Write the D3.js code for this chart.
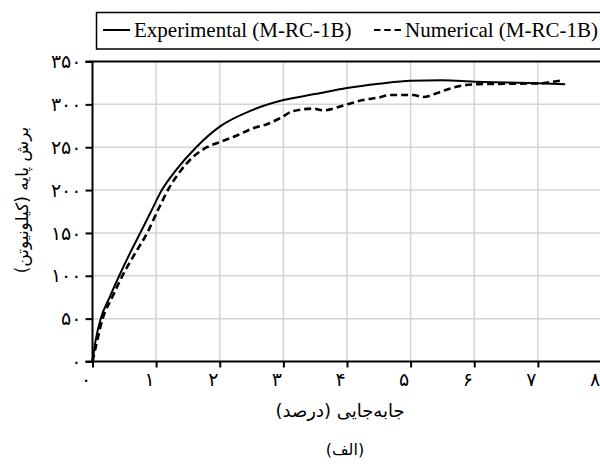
<!DOCTYPE html>
<html>
<head>
<meta charset="utf-8">
<title>M-RC-1B</title>
<style>
  body { margin: 0; background: #fff; }
  svg { display: block; }
  .latin { font-family: "Liberation Serif", "Times New Roman", "DejaVu Serif", serif; }
  .fa { font-family: "DejaVu Sans", sans-serif; }
</style>
</head>
<body>
<svg width="600" height="466"></svg>
<script src="https://d3js.org/d3.v7.min.js"></script>
<script>

// drift ratio (%) and base shear (kN)
var expDrift = [0, 0.05, 0.13, 0.27, 0.42, 0.58, 0.75, 0.92, 1.09, 1.3, 1.63, 2.0, 2.5, 3.0, 3.5, 4.0, 4.5, 5.0, 5.5, 6.0, 6.5, 7.0, 7.43];
var expShear = [0, 25, 50, 75, 100, 125, 150, 175, 200, 222, 250, 274, 293, 305, 312, 319, 324, 327.6, 328, 326.5, 325.5, 324.6, 323.5];

var numDrift = [0, 0.06, 0.16, 0.31, 0.47, 0.66, 0.86, 1.05, 1.2, 1.36, 1.6, 1.8, 2.0, 2.25, 2.52, 2.75, 2.95, 3.15, 3.47, 3.62, 4.0, 4.25, 4.5, 4.68, 5.04, 5.2, 5.41, 5.6, 5.78, 6.04, 6.5, 7.04, 7.2, 7.38];
var numShear = [0, 20, 50, 75, 100, 125, 150, 180, 202, 220, 240, 250, 256, 263, 272, 277, 284, 292, 295, 293, 300, 305, 308, 311, 311, 308.5, 313, 318, 321.5, 323.5, 324, 324.6, 326, 328];

var xTicks = [0, 1, 2, 3, 4, 5, 6, 7, 8];
var xTickLabels = ["۰", "۱", "۲", "۳", "۴", "۵", "۶", "۷", "۸"];
var yTicks = [0, 50, 100, 150, 200, 250, 300, 350];
var yTickLabels = ["۰", "۵۰", "۱۰۰", "۱۵۰", "۲۰۰", "۲۵۰", "۳۰۰", "۳۵۰"];

var seriesNames = ["Experimental (M-RC-1B)", "Numerical (M-RC-1B)"];

var svg = d3.select("svg");

var x = d3.scaleLinear().domain([0, 8]).range([92.5, 601.5]);
var y = d3.scaleLinear().domain([0, 350]).range([361.5, 61.5]);

// grid
svg.append("g")
  .selectAll("line")
  .data(xTicks.slice(1, 8))
  .enter().append("line")
    .attr("x1", function(d) { return x(d); })
    .attr("x2", function(d) { return x(d); })
    .attr("y1", y(0))
    .attr("y2", y(350))
    .attr("stroke", "#d4d4d4")
    .attr("stroke-width", 1.5);

svg.append("g")
  .selectAll("line")
  .data(yTicks.slice(1, 7))
  .enter().append("line")
    .attr("x1", x(0))
    .attr("x2", 600)
    .attr("y1", function(d) { return y(d); })
    .attr("y2", function(d) { return y(d); })
    .attr("stroke", "#d4d4d4")
    .attr("stroke-width", 1.5);

// top frame
svg.append("line")
  .attr("x1", x(0) - 7).attr("x2", 600)
  .attr("y1", y(350)).attr("y2", y(350))
  .attr("stroke", "#000").attr("stroke-width", 2);

// axes
var xAxis = svg.append("g")
  .attr("transform", "translate(0," + y(0) + ")")
  .call(d3.axisBottom(x).tickValues(xTicks).tickSize(6)
    .tickFormat(function(d, i) { return xTickLabels[i]; }));
xAxis.select(".domain").attr("stroke-width", 2).attr("d", "M" + (x(0) - 7) + ",0H600");
xAxis.selectAll(".tick line").attr("stroke-width", 2);
xAxis.selectAll(".tick text")
  .attr("class", "fa")
  .attr("font-family", null)
  .attr("font-size", 19)
  .attr("fill", "#000")
  .attr("x", -7)
  .attr("y", 11);

var yAxis = svg.append("g")
  .attr("transform", "translate(" + x(0) + ",0)")
  .call(d3.axisLeft(y).tickValues(yTicks).tickSize(7).tickPadding(4)
    .tickFormat(function(d, i) { return yTickLabels[i]; }));
yAxis.select(".domain").attr("stroke-width", 2).attr("d", "M0," + y(0) + "V" + y(350));
yAxis.selectAll(".tick line").attr("stroke-width", 2);
yAxis.selectAll(".tick text")
  .attr("class", "fa")
  .attr("font-size", 19)
  .attr("fill", "#000");
xAxis.attr("font-family", null);
yAxis.attr("font-family", null);

// curves
var line = d3.line()
  .x(function(d) { return x(d[0]); })
  .y(function(d) { return y(d[1]); })
  .curve(d3.curveMonotoneX);

svg.append("path")
  .datum(numDrift.map(function(d, i) { return [d, numShear[i]]; }))
  .attr("d", line)
  .attr("fill", "none")
  .attr("stroke", "#000")
  .attr("stroke-width", 2.6)
  .attr("stroke-dasharray", "7,4");

svg.append("path")
  .datum(expDrift.map(function(d, i) { return [d, expShear[i]]; }))
  .attr("d", line)
  .attr("fill", "none")
  .attr("stroke", "#000")
  .attr("stroke-width", 2);

// axis titles
svg.append("text")
  .attr("class", "fa")
  .attr("x", 340)
  .attr("y", 417)
  .attr("text-anchor", "middle")
  .attr("direction", "rtl")
  .attr("font-size", 18)
  .text("جابه‌جایی (درصد)");

svg.append("text")
  .attr("class", "fa")
  .attr("x", 345)
  .attr("y", 455)
  .attr("text-anchor", "middle")
  .attr("direction", "rtl")
  .attr("font-size", 16)
  .text("(الف)");

svg.append("text")
  .attr("class", "fa")
  .attr("transform", "translate(28,200) rotate(-90)")
  .attr("text-anchor", "middle")
  .attr("direction", "rtl")
  .attr("font-size", 17)
  .text("برش پایه (کیلونیوتن)");

// legend
var lg = svg.append("g");
lg.append("rect")
  .attr("x", 96.5).attr("y", 12.5)
  .attr("width", 510).attr("height", 36.5)
  .attr("fill", "#fff")
  .attr("stroke", "#000")
  .attr("stroke-width", 1.5);

lg.append("line")
  .attr("x1", 103).attr("x2", 130)
  .attr("y1", 30).attr("y2", 30)
  .attr("stroke", "#000").attr("stroke-width", 2);
lg.append("text")
  .attr("class", "latin")
  .attr("x", 134).attr("y", 37)
  .attr("font-size", 21)
  .text(seriesNames[0]);

lg.append("line")
  .attr("x1", 374).attr("x2", 401)
  .attr("y1", 30).attr("y2", 30)
  .attr("stroke", "#000").attr("stroke-width", 2.2)
  .attr("stroke-dasharray", "6.5,3.75");
lg.append("text")
  .attr("class", "latin")
  .attr("x", 405).attr("y", 37)
  .attr("font-size", 21)
  .text(seriesNames[1]);

</script>
</body>
</html>
